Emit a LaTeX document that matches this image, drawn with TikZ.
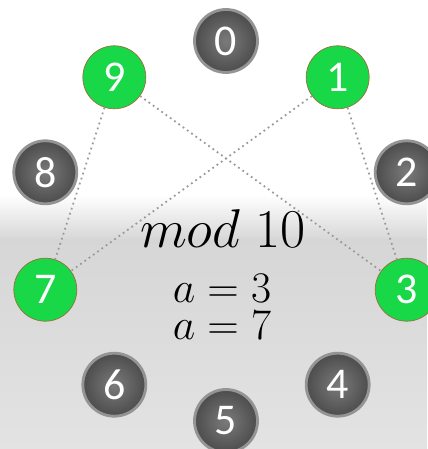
\documentclass[tikz,border=0pt]{standalone}
\usepackage{fontspec}
\usetikzlibrary{calc}
\newfontfamily\digitfont{Carlito}
\begin{document}
\begin{tikzpicture}[x=0.02cm,y=0.02cm,
  every node/.style={inner sep=0pt},
  ball/.style={circle,minimum size=1.26cm,
    text=white,font=\digitfont\fontsize{25}{30}\selectfont},
  numdot/.style={ball,shading=radial,
    inner color=black!52,outer color=black!70,draw=black!42,line width=1.6pt},
  hit/.style={ball,
    fill={rgb,255:red,24;green,216;blue,72},draw={rgb,255:red,150;green,110;blue,60},line width=0.4pt},
  link/.style={dotted,draw=black!40,line width=1pt},
  mathtext/.style={anchor=base,text=black,font=\fontsize{24.88}{28}\selectfont}]
% background
\useasboundingbox (0,0) rectangle (427,449);
\fill[white] (0,254) rectangle (427,449);
\shade[top color=white,bottom color=black!16] (0,209) rectangle (427,254);
\shade[top color=black!16,bottom color=black!11] (0,0) rectangle (427,209);
% the ten residues
\coordinate (c) at (226,218);
\foreach \n in {0,2,4,5,6,8}
  \node[numdot] (n\n) at ($(c)+(90-36*\n:190)$) {\n};
\foreach \n in {1,3,7,9}
  \node[hit] (n\n) at ($(c)+(90-36*\n:190)$) {\n};
% pairs
\draw[link] (n9) -- (n7);
\draw[link] (n9) -- (n3);
\draw[link] (n1) -- (n7);
\draw[link] (n1) -- (n3);
% labels
\node[mathtext,scale=1.25] (modlbl) at (223,201) {$mod\;10$};
\node[mathtext] (a3) at (222,146) {$a=3$};
\node[mathtext] (a7) at (222,109) {$a=7$};
\end{tikzpicture}
\end{document}
